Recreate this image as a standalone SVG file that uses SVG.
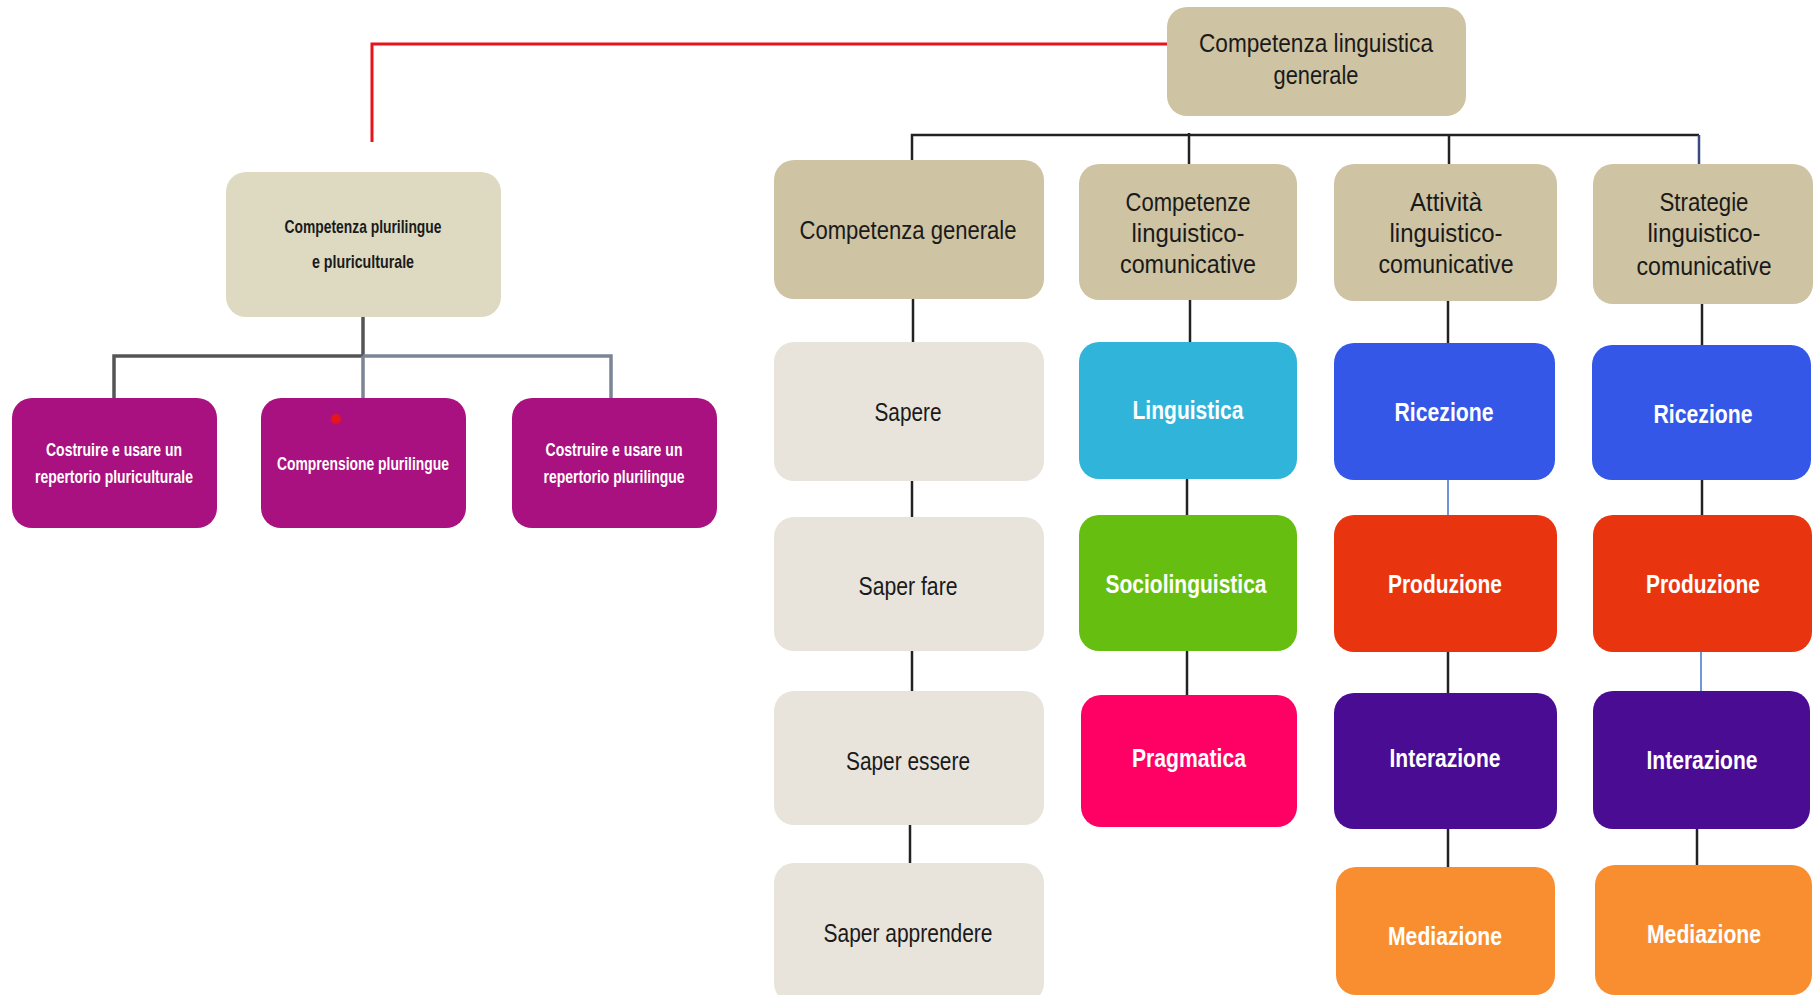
<svg xmlns="http://www.w3.org/2000/svg" width="1819" height="995" viewBox="0 0 1819 995">
  <style>
    .box { rx: 20px; ry: 20px; }
    .tan { fill: #cec3a2; }
    .light { fill: #e8e4dc; }
    .beige { fill: #dedac2; }
    .mag { fill: #aa1180; }
    .t { font-family: "Liberation Sans Narrow", "Liberation Sans", Arial, sans-serif; text-anchor: middle; }
    .dark { fill: #1a1a1a; font-size: 26px; }
    .white { fill: #ffffff; font-size: 26px; font-weight: bold; }
    .small { font-size: 19px; font-weight: bold; }
    .ln { stroke: #222222; stroke-width: 2.5; fill: none; }
    .lnb { stroke: #6f96d8; stroke-width: 2; fill: none; }
  </style>

  <!-- connectors -->
  <g id="connectors">
    <polyline points="1167,44 372,44 372,142" fill="none" stroke="#e8141c" stroke-width="3"/>
    <!-- plurilingual branch -->
    <line x1="363" y1="317" x2="363" y2="356" stroke="#555555" stroke-width="3.5"/>
    <polyline points="114,398 114,356 363,356" fill="none" stroke="#555555" stroke-width="3.5"/>
    <polyline points="363,356 611,356 611,398" fill="none" stroke="#7b8595" stroke-width="3.5"/>
    <line x1="363" y1="356" x2="363" y2="398" stroke="#7b8595" stroke-width="3.5"/>
    <!-- main branch -->
    <polyline class="ln" points="912,160 912,135 1699,135"/>
    <line class="ln" x1="1189" y1="133" x2="1189" y2="164"/>
    <line class="ln" x1="1449" y1="135" x2="1449" y2="164"/>
    <line x1="1699" y1="135" x2="1699" y2="164" stroke="#3a4a80" stroke-width="2.5"/>
    <!-- column 1 -->
    <line class="ln" x1="913" y1="299" x2="913" y2="342"/>
    <line class="ln" x1="912" y1="481" x2="912" y2="517"/>
    <line class="ln" x1="912" y1="651" x2="912" y2="691"/>
    <line class="ln" x1="910" y1="825" x2="910" y2="863"/>
    <!-- column 2 -->
    <line class="ln" x1="1190" y1="300" x2="1190" y2="342"/>
    <line class="ln" x1="1187" y1="479" x2="1187" y2="515"/>
    <line class="ln" x1="1187" y1="651" x2="1187" y2="695"/>
    <!-- column 3 -->
    <line class="ln" x1="1448" y1="301" x2="1448" y2="343"/>
    <line class="lnb" x1="1448" y1="480" x2="1448" y2="515"/>
    <line class="ln" x1="1448" y1="652" x2="1448" y2="694"/>
    <line class="ln" x1="1448" y1="829" x2="1448" y2="867"/>
    <!-- column 4 -->
    <line class="ln" x1="1702" y1="304" x2="1702" y2="345"/>
    <line class="ln" x1="1702" y1="480" x2="1702" y2="515"/>
    <line class="lnb" x1="1701" y1="652" x2="1701" y2="691"/>
    <line class="ln" x1="1697" y1="829" x2="1697" y2="865"/>
  </g>

  <!-- top -->
  <g id="n-generale-top">
    <rect class="box tan" x="1167" y="7" width="299" height="109"/>
    <text class="t dark" x="1316" y="52" textLength="234" lengthAdjust="spacingAndGlyphs">Competenza linguistica</text>
    <text class="t dark" x="1316" y="84" textLength="85" lengthAdjust="spacingAndGlyphs">generale</text>
  </g>

  <!-- plurilingual side -->
  <g id="n-plurilingue">
    <rect class="box beige" x="226" y="172" width="275" height="145"/>
    <text class="t dark small" x="363" y="233" textLength="157" lengthAdjust="spacingAndGlyphs">Competenza plurilingue</text>
    <text class="t dark small" x="363" y="268" textLength="102" lengthAdjust="spacingAndGlyphs">e pluriculturale</text>
  </g>
  <g id="n-pluriculturale">
    <rect class="box mag" x="12" y="398" width="205" height="130"/>
    <text class="t small" fill="#ffffff" x="114" y="456" textLength="136" lengthAdjust="spacingAndGlyphs">Costruire e usare un</text>
    <text class="t small" fill="#ffffff" x="114" y="483" textLength="158" lengthAdjust="spacingAndGlyphs">repertorio pluriculturale</text>
  </g>
  <g id="n-comprensione">
    <rect class="box mag" x="261" y="398" width="205" height="130"/>
    <circle cx="336" cy="419" r="5" fill="#e8141c"/>
    <text class="t small" fill="#ffffff" x="363" y="470" textLength="172" lengthAdjust="spacingAndGlyphs">Comprensione plurilingue</text>
  </g>
  <g id="n-repertorio">
    <rect class="box mag" x="512" y="398" width="205" height="130"/>
    <text class="t small" fill="#ffffff" x="614" y="456" textLength="137" lengthAdjust="spacingAndGlyphs">Costruire e usare un</text>
    <text class="t small" fill="#ffffff" x="614" y="483" textLength="141" lengthAdjust="spacingAndGlyphs">repertorio plurilingue</text>
  </g>

  <!-- column 1 -->
  <g id="n-comp-generale">
    <rect class="box tan" x="774" y="160" width="270" height="139"/>
    <text class="t dark" x="908" y="239" textLength="217" lengthAdjust="spacingAndGlyphs">Competenza generale</text>
  </g>
  <g id="n-sapere">
    <rect class="box light" x="774" y="342" width="270" height="139"/>
    <text class="t dark" x="908" y="421" textLength="67" lengthAdjust="spacingAndGlyphs">Sapere</text>
  </g>
  <g id="n-saper-fare">
    <rect class="box light" x="774" y="517" width="270" height="134"/>
    <text class="t dark" x="908" y="595" textLength="99" lengthAdjust="spacingAndGlyphs">Saper fare</text>
  </g>
  <g id="n-saper-essere">
    <rect class="box light" x="774" y="691" width="270" height="134"/>
    <text class="t dark" x="908" y="770" textLength="124" lengthAdjust="spacingAndGlyphs">Saper essere</text>
  </g>
  <g id="n-saper-apprendere">
    <rect class="box light" x="774" y="863" width="270" height="140"/>
    <text class="t dark" x="908" y="942" textLength="169" lengthAdjust="spacingAndGlyphs">Saper apprendere</text>
  </g>

  <!-- column 2 -->
  <g id="n-competenze">
    <rect class="box tan" x="1079" y="164" width="218" height="136"/>
    <text class="t dark" x="1188" y="211" textLength="125" lengthAdjust="spacingAndGlyphs">Competenze</text>
    <text class="t dark" x="1188" y="242" textLength="113" lengthAdjust="spacingAndGlyphs">linguistico-</text>
    <text class="t dark" x="1188" y="273" textLength="136" lengthAdjust="spacingAndGlyphs">comunicative</text>
  </g>
  <g id="n-linguistica">
    <rect class="box" fill="#30b4d9" x="1079" y="342" width="218" height="137"/>
    <text class="t white" x="1188" y="419" textLength="111" lengthAdjust="spacingAndGlyphs">Linguistica</text>
  </g>
  <g id="n-sociolinguistica">
    <rect class="box" fill="#66bf10" x="1079" y="515" width="218" height="136"/>
    <text class="t white" x="1186" y="593" textLength="161" lengthAdjust="spacingAndGlyphs">Sociolinguistica</text>
  </g>
  <g id="n-pragmatica">
    <rect class="box" fill="#ff0064" x="1081" y="695" width="216" height="132"/>
    <text class="t white" x="1189" y="767" textLength="114" lengthAdjust="spacingAndGlyphs">Pragmatica</text>
  </g>

  <!-- column 3 -->
  <g id="n-attivita">
    <rect class="box tan" x="1334" y="164" width="223" height="137"/>
    <text class="t dark" x="1446" y="211" textLength="72" lengthAdjust="spacingAndGlyphs">Attività</text>
    <text class="t dark" x="1446" y="242" textLength="113" lengthAdjust="spacingAndGlyphs">linguistico-</text>
    <text class="t dark" x="1446" y="273" textLength="135" lengthAdjust="spacingAndGlyphs">comunicative</text>
  </g>
  <g id="n-ricezione-a">
    <rect class="box" fill="#3557e8" x="1334" y="343" width="221" height="137"/>
    <text class="t white" x="1444" y="421" textLength="99" lengthAdjust="spacingAndGlyphs">Ricezione</text>
  </g>
  <g id="n-produzione-a">
    <rect class="box" fill="#e83510" x="1334" y="515" width="223" height="137"/>
    <text class="t white" x="1445" y="593" textLength="114" lengthAdjust="spacingAndGlyphs">Produzione</text>
  </g>
  <g id="n-interazione-a">
    <rect class="box" fill="#4b0c94" x="1334" y="693" width="223" height="136"/>
    <text class="t white" x="1445" y="767" textLength="111" lengthAdjust="spacingAndGlyphs">Interazione</text>
  </g>
  <g id="n-mediazione-a">
    <rect class="box" fill="#f98e30" x="1336" y="867" width="219" height="128"/>
    <text class="t white" x="1445" y="945" textLength="114" lengthAdjust="spacingAndGlyphs">Mediazione</text>
  </g>

  <!-- column 4 -->
  <g id="n-strategie">
    <rect class="box tan" x="1593" y="164" width="220" height="140"/>
    <text class="t dark" x="1704" y="211" textLength="89" lengthAdjust="spacingAndGlyphs">Strategie</text>
    <text class="t dark" x="1704" y="242" textLength="113" lengthAdjust="spacingAndGlyphs">linguistico-</text>
    <text class="t dark" x="1704" y="275" textLength="135" lengthAdjust="spacingAndGlyphs">comunicative</text>
  </g>
  <g id="n-ricezione-s">
    <rect class="box" fill="#3557e8" x="1592" y="345" width="219" height="135"/>
    <text class="t white" x="1703" y="423" textLength="99" lengthAdjust="spacingAndGlyphs">Ricezione</text>
  </g>
  <g id="n-produzione-s">
    <rect class="box" fill="#e83510" x="1593" y="515" width="219" height="137"/>
    <text class="t white" x="1703" y="593" textLength="114" lengthAdjust="spacingAndGlyphs">Produzione</text>
  </g>
  <g id="n-interazione-s">
    <rect class="box" fill="#4b0c94" x="1593" y="691" width="217" height="138"/>
    <text class="t white" x="1702" y="769" textLength="111" lengthAdjust="spacingAndGlyphs">Interazione</text>
  </g>
  <g id="n-mediazione-s">
    <rect class="box" fill="#f98e30" x="1595" y="865" width="217" height="130"/>
    <text class="t white" x="1704" y="943" textLength="114" lengthAdjust="spacingAndGlyphs">Mediazione</text>
  </g>
</svg>
